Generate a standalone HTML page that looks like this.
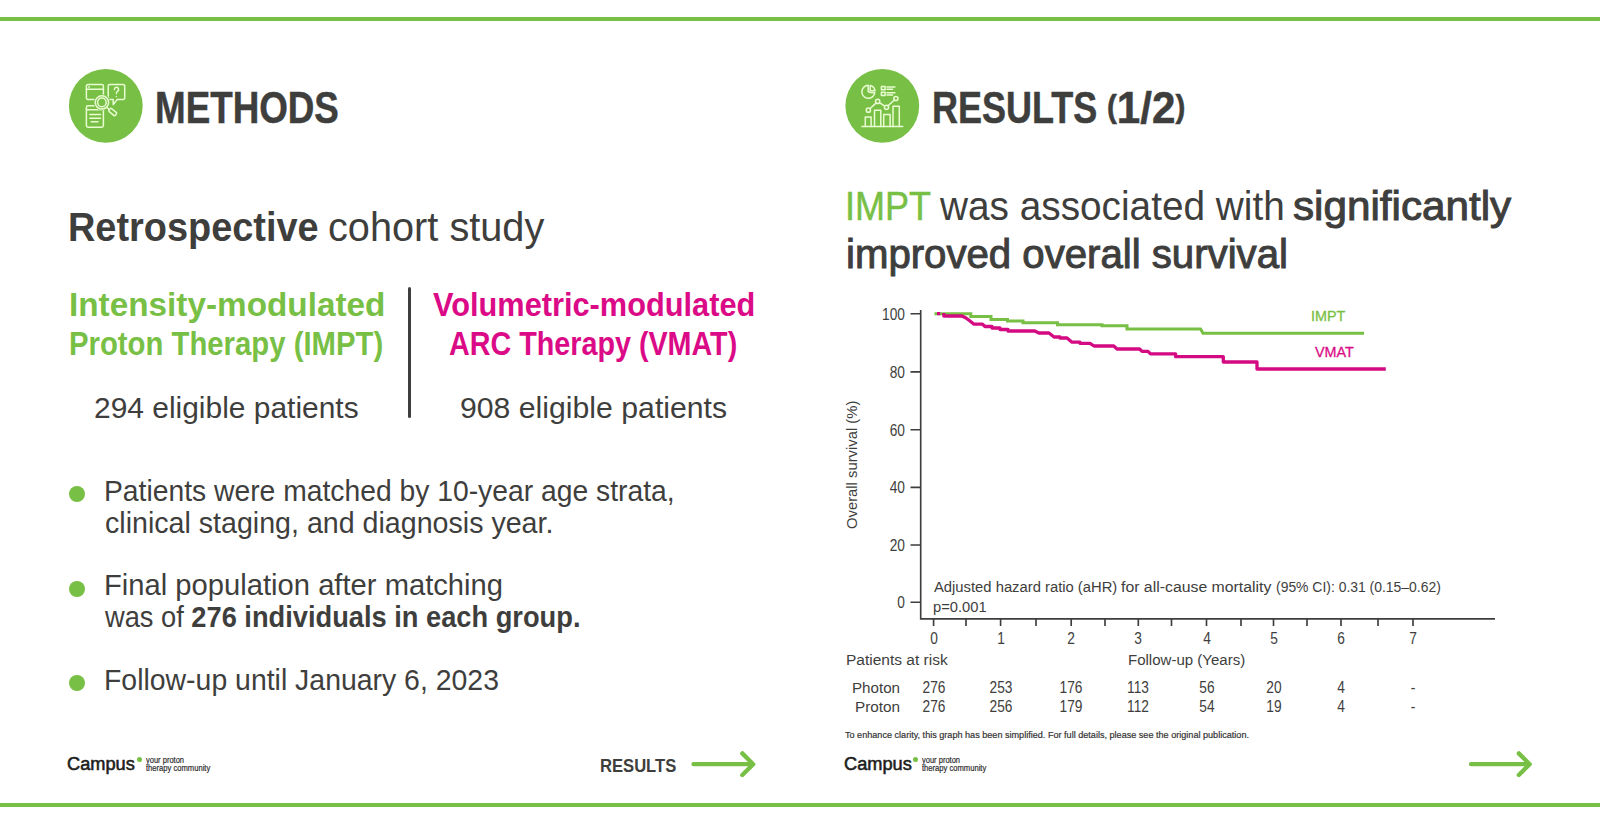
<!DOCTYPE html>
<html lang="en"><head><meta charset="utf-8"><title>Methods / Results</title>
<style>
html,body{margin:0;padding:0;background:#fff;}
body{width:1600px;height:824px;position:relative;overflow:hidden;font-family:"Liberation Sans", sans-serif;color:#3e3e3d;}
.t{position:absolute;white-space:nowrap;line-height:1;transform-origin:0 0;}
.t.n{width:100px;text-align:center;transform-origin:50px 0;color:#3e3e3d;}
.t.nr{width:100px;text-align:right;transform-origin:100px 0;color:#3e3e3d;}
b{font-weight:700}
.sb{-webkit-text-stroke:1px #3e3e3d;}
.bar{position:absolute;left:0;width:1600px;height:4px;background:#78c045;}
.dot{position:absolute;border-radius:50%;background:#78c045;}
svg{position:absolute;left:0;top:0;}
</style></head><body>
<div class="bar" style="top:17px"></div>
<div class="bar" style="top:803.4px"></div>
<div class="dot" style="left:68.8px;top:486.3px;width:16.2px;height:16.2px"></div>
<div class="dot" style="left:68.8px;top:580.7px;width:16.2px;height:16.2px"></div>
<div class="dot" style="left:68.8px;top:674.8px;width:16.2px;height:16.2px"></div>
<div class="dot" style="left:136.5px;top:757.3px;width:5px;height:5px"></div>
<div class="dot" style="left:913.3px;top:757.3px;width:5px;height:5px"></div>
<div style="position:absolute;left:408.2px;top:287px;width:3.1px;height:130.5px;background:#3e3e3d;border-radius:1.5px"></div>
<svg width="1600" height="824" viewBox="0 0 1600 824">
<!-- methods icon -->
<circle cx="105.8" cy="105.8" r="36.9" fill="#78c045"/>
<g fill="none" stroke="#e9fcd2" stroke-width="1.5" stroke-linecap="round" stroke-linejoin="round">
  <rect x="86.4" y="84.4" width="17" height="15.1" rx="1.6"/>
  <path d="M86.4 89.3H103.4"/>
  <path d="M88.6 86.9H89.4"/>
  <rect x="86.4" y="105.8" width="17" height="21.4" rx="1.6"/>
  <path d="M86.4 109.7H103.4"/>
  <path d="M89.8 114.5H100.5M89.8 118.3H100.5M91.3 121.8H98"/>
  <path d="M109.8 84.4H123.1a1.6 1.6 0 0 1 1.6 1.6V97.9a1.6 1.6 0 0 1 -1.6 1.6H117.2L113.2 104.6V99.5H109.8a1.6 1.6 0 0 1 -1.6 -1.6V86a1.6 1.6 0 0 1 1.6 -1.6Z"/>
  <path d="M114.4 89.4a2.1 2.1 0 1 1 3 1.9c-0.8 0.5 -1 1 -1 2.2"/>
  <path d="M116.4 96.4V96.6"/>
</g>
<circle cx="101.9" cy="102.4" r="8.2" fill="#78c045"/>
<g fill="none" stroke="#e9fcd2" stroke-width="1.5" stroke-linecap="round" stroke-linejoin="round">
  <circle cx="101.9" cy="102.4" r="6.7"/>
  <circle cx="101.9" cy="102.4" r="4.3"/>
  <path d="M106.8 107.2L109.3 109.6"/>
  <rect x="-1.9" y="0" width="3.8" height="8.2" rx="1.2" transform="translate(109.6 109.4) rotate(-50)" fill="#78c045"/>
</g>
<!-- results icon -->
<circle cx="882.3" cy="105.8" r="36.9" fill="#78c045"/>
<g fill="none" stroke="#e9fcd2" stroke-width="1.5" stroke-linecap="round" stroke-linejoin="round">
  <path d="M861.9 126.4H902.7"/>
  <path d="M865.3 126.4V117H871.1V126.4"/>
  <path d="M874.5 126.4V110.2H880.8V126.4"/>
  <path d="M883.7 126.4V114.5H890.1V126.4"/>
  <path d="M893 126.4V106.3H899.3V126.4"/>
  <path d="M869.9 108.7L876.2 102.9M879.4 102.6L884.8 106.2M888 105.8L894.4 100"/>
  <circle cx="868.4" cy="110.2" r="2.1"/>
  <circle cx="877.7" cy="101.4" r="2.1"/>
  <circle cx="886.5" cy="107.3" r="2.1"/>
  <circle cx="895.9" cy="98.5" r="2.1"/>
  <path d="M868.2 85.3a6.5 6.5 0 1 0 6.6 7.4L870.2 92.6L868.2 91.6Z"/>
  <path d="M870.2 85.6a6.5 6.5 0 0 1 4.9 5.2H870.2Z"/>
  <rect x="881.4" y="86.4" width="3.7" height="3.3"/>
  <rect x="881.4" y="92.2" width="3.7" height="3.3"/>
  <path d="M887 87H894.9M887 89.2H892.5M887 92.8H894.9M887 95H892.5"/>
</g>
<!-- arrows -->
<g fill="none" stroke="#78c045" stroke-width="4.3" stroke-linecap="round" stroke-linejoin="round">
  <path d="M693.5 764.2H753M742.3 753.4L753.2 764.2L742.3 775"/>
  <path d="M1471 764.2H1529.5M1518.8 753.4L1529.7 764.2L1518.8 775"/>
</g>
<!-- chart -->
<g fill="none" stroke="#3e3e3d" stroke-width="1.65">
  <path d="M920.7 310V618.8H1495"/>
  <path d="M910.5 313.7H920.8M910.5 371.9H920.8M910.5 429.7H920.8M910.5 487.3H920.8M910.5 545H920.8M910.5 602.2H920.8"/>
  <path d="M933.6 618.8V626M966 618.8V626M1000.6 618.8V626M1036 618.8V626M1071.2 618.8V626M1105 618.8V626M1138.3 618.8V626M1171.5 618.8V626M1206.5 618.8V626M1241 618.8V626M1273.5 618.8V626M1307 618.8V626M1341 618.8V626M1378 618.8V626M1413 618.8V626"/>
</g>
<path fill="none" stroke="#78c045" stroke-width="3" stroke-linejoin="miter" d="M934.4 313.7H970.8V316.4H991V319.5H1007.5V321H1023V322.7H1057.5V324.7H1102V325.8H1127V329H1200.6L1203 333.3H1364"/>
<path fill="none" stroke="#d30a82" stroke-width="3.3" stroke-linejoin="round" d="M937 313.7H940.2M943.8 313V316H962L966 318L970 321L974 324.2H982.5L985 326.5H992V328H1000V329.5H1008V331H1034.8L1038.8 333H1049L1054 337H1060V338H1067L1072 342.2H1080V343.3H1090L1094 346H1113.8L1117 349H1139.5L1142 351.3H1148L1150.5 353.8H1175.6V356.7H1223.3V362H1257V369H1385.8"/>
</svg>

<div class="t" style="left:154.78px;top:86.10px;font-size:43.8px;font-weight:700;color:#3e3e3d;-webkit-text-stroke:0.5px #3e3e3d;transform:scaleX(0.8397)">METHODS</div>
<div class="t" style="left:68.21px;top:207.10px;font-size:40.7px;font-weight:700;color:#3e3e3d;transform:scaleX(0.9313)">Retrospective</div>
<div class="t" style="left:328.35px;top:207.10px;font-size:40.7px;font-weight:400;color:#3e3e3d;transform:scaleX(0.9758)">cohort study</div>
<div class="t" style="left:68.96px;top:289.10px;font-size:32.7px;font-weight:700;color:#78c045;transform:scaleX(1.0190)">Intensity-modulated</div>
<div class="t" style="left:69.21px;top:328.10px;font-size:32.7px;font-weight:700;color:#78c045;transform:scaleX(0.8963)">Proton Therapy (IMPT)</div>
<div class="t" style="left:432.80px;top:289.10px;font-size:32.7px;font-weight:700;color:#db0a86;transform:scaleX(0.9405)">Volumetric-modulated</div>
<div class="t" style="left:448.52px;top:328.10px;font-size:32.7px;font-weight:700;color:#db0a86;transform:scaleX(0.8785)">ARC Therapy (VMAT)</div>
<div class="t" style="left:94.21px;top:393.10px;font-size:30.3px;font-weight:400;color:#3e3e3d;transform:scaleX(0.9880)">294 eligible patients</div>
<div class="t" style="left:460.00px;top:393.10px;font-size:30.3px;font-weight:400;color:#3e3e3d;transform:scaleX(0.9974)">908 eligible patients</div>
<div class="t" style="left:103.86px;top:477.10px;font-size:29.1px;font-weight:400;color:#3e3e3d;transform:scaleX(0.9720)">Patients were matched by 10-year age strata,</div>
<div class="t" style="left:104.62px;top:509.10px;font-size:29.1px;font-weight:400;color:#3e3e3d;transform:scaleX(0.9832)">clinical staging, and diagnosis year.</div>
<div class="t" style="left:103.79px;top:571.10px;font-size:29.1px;font-weight:400;color:#3e3e3d;transform:scaleX(1.0030)">Final population after matching</div>
<div class="t" style="left:105.10px;top:603.10px;font-size:29.1px;font-weight:400;color:#3e3e3d;transform:scaleX(0.9366)">was of <b>276 individuals in each group.</b></div>
<div class="t" style="left:103.85px;top:666.10px;font-size:29.1px;font-weight:400;color:#3e3e3d;transform:scaleX(0.9768)">Follow-up until January 6, 2023</div>
<div class="t" style="left:67.47px;top:756.10px;font-size:17.6px;font-weight:400;color:#1d1d1b;-webkit-text-stroke:0.55px #1d1d1b;transform:scaleX(1.0344)">Campus</div>
<div class="t" style="left:145.60px;top:756.10px;font-size:9.3px;font-weight:400;color:#2b2b2b;-webkit-text-stroke:0.2px #2b2b2b;transform:scaleX(0.8087)">your proton</div>
<div class="t" style="left:145.60px;top:764.10px;font-size:9.3px;font-weight:400;color:#2b2b2b;-webkit-text-stroke:0.2px #2b2b2b;transform:scaleX(0.8179)">therapy community</div>
<div class="t" style="left:600.42px;top:757.10px;font-size:18.9px;font-weight:700;color:#3e3e3d;transform:scaleX(0.8788)">RESULTS</div>
<div class="t" style="left:931.54px;top:86.10px;font-size:43.8px;font-weight:700;color:#3e3e3d;-webkit-text-stroke:0.5px #3e3e3d;transform:scaleX(0.8214)">RESULTS</div>
<div class="t" style="left:1107.47px;top:86.10px;font-size:43.8px;font-weight:700;color:#3e3e3d;-webkit-text-stroke:0.5px #3e3e3d;transform:scaleX(0.9628)"><span style="font-size:30.6px;position:relative;top:-6.1px">(</span>1/2<span style="font-size:30.6px;position:relative;top:-6.1px">)</span></div>
<div class="t" style="left:844.93px;top:187.10px;font-size:40.3px;font-weight:400;color:#78c045;-webkit-text-stroke:0.5px #78c045;transform:scaleX(0.8934)">IMPT</div>
<div class="t" style="left:940.00px;top:187.10px;font-size:40.3px;font-weight:400;color:#3e3e3d;transform:scaleX(0.9621)">was associated with</div>
<div class="t" style="left:1292.90px;top:187.10px;font-size:40.3px;font-weight:400;color:#3e3e3d;transform:scaleX(1.0476)"><span class="sb">significantly</span></div>
<div class="t" style="left:845.51px;top:235.10px;font-size:40.3px;font-weight:400;color:#3e3e3d;transform:scaleX(0.9966)"><span class="sb">improved overall survival</span></div>
<div class="t" style="left:844.27px;top:756.10px;font-size:17.6px;font-weight:400;color:#1d1d1b;-webkit-text-stroke:0.55px #1d1d1b;transform:scaleX(1.0344)">Campus</div>
<div class="t" style="left:922.40px;top:756.10px;font-size:9.3px;font-weight:400;color:#2b2b2b;-webkit-text-stroke:0.2px #2b2b2b;transform:scaleX(0.8087)">your proton</div>
<div class="t" style="left:922.40px;top:764.10px;font-size:9.3px;font-weight:400;color:#2b2b2b;-webkit-text-stroke:0.2px #2b2b2b;transform:scaleX(0.8179)">therapy community</div>
<div class="t" style="left:1311.37px;top:308.10px;font-size:15.4px;font-weight:400;color:#78c045;-webkit-text-stroke:0.3px #78c045;transform:scaleX(0.9343)">IMPT</div>
<div class="t" style="left:1314.70px;top:344.10px;font-size:15.4px;font-weight:400;color:#db0a86;-webkit-text-stroke:0.3px #db0a86;transform:scaleX(0.9341)">VMAT</div>
<div class="t" style="left:933.60px;top:579.10px;font-size:15.3px;font-weight:400;color:#3e3e3d;transform:scaleX(0.9667)">Adjusted hazard ratio (aHR)</div>
<div class="t" style="left:1121.30px;top:579.10px;font-size:15.3px;font-weight:400;color:#3e3e3d;transform:scaleX(1.0345)">for all-cause mortality</div>
<div class="t" style="left:1275.69px;top:579.10px;font-size:15.3px;font-weight:400;color:#3e3e3d;transform:scaleX(0.9101)">(95% CI): 0.31 (0.15–0.62)</div>
<div class="t" style="left:932.54px;top:599.10px;font-size:15.3px;font-weight:400;color:#3e3e3d;transform:scaleX(0.9630)">p=0.001</div>
<div class="t" style="left:845.59px;top:652.10px;font-size:15.4px;font-weight:400;color:#3e3e3d;transform:scaleX(1.0080)">Patients at risk</div>
<div class="t" style="left:1128.32px;top:652.10px;font-size:15.4px;font-weight:400;color:#3e3e3d;transform:scaleX(0.9763)">Follow-up (Years)</div>
<div class="t" style="left:851.71px;top:680.10px;font-size:15.4px;font-weight:400;color:#3e3e3d;transform:scaleX(0.9851)">Photon</div>
<div class="t" style="left:854.80px;top:699.10px;font-size:15.4px;font-weight:400;color:#3e3e3d;transform:scaleX(0.9953)">Proton</div>
<div class="t" style="left:845.30px;top:731.10px;font-size:9.3px;font-weight:400;color:#333;-webkit-text-stroke:0.2px #333;transform:scaleX(0.9775)">To enhance clarity, this graph has been simplified. For full details, please see the original publication.</div>
<div class="t n" style="left:883.60px;top:631.10px;font-size:15.6px;transform:scaleX(0.88)">0</div>
<div class="t n" style="left:950.60px;top:631.10px;font-size:15.6px;transform:scaleX(0.88)">1</div>
<div class="t n" style="left:1021.20px;top:631.10px;font-size:15.6px;transform:scaleX(0.88)">2</div>
<div class="t n" style="left:1088.30px;top:631.10px;font-size:15.6px;transform:scaleX(0.88)">3</div>
<div class="t n" style="left:1156.50px;top:631.10px;font-size:15.6px;transform:scaleX(0.88)">4</div>
<div class="t n" style="left:1223.50px;top:631.10px;font-size:15.6px;transform:scaleX(0.88)">5</div>
<div class="t n" style="left:1291.00px;top:631.10px;font-size:15.6px;transform:scaleX(0.88)">6</div>
<div class="t n" style="left:1363.00px;top:631.10px;font-size:15.6px;transform:scaleX(0.88)">7</div>
<div class="t n" style="left:883.60px;top:680.10px;font-size:15.6px;transform:scaleX(0.88)">276</div>
<div class="t n" style="left:883.60px;top:699.10px;font-size:15.6px;transform:scaleX(0.88)">276</div>
<div class="t n" style="left:950.60px;top:680.10px;font-size:15.6px;transform:scaleX(0.88)">253</div>
<div class="t n" style="left:950.60px;top:699.10px;font-size:15.6px;transform:scaleX(0.88)">256</div>
<div class="t n" style="left:1021.20px;top:680.10px;font-size:15.6px;transform:scaleX(0.88)">176</div>
<div class="t n" style="left:1021.20px;top:699.10px;font-size:15.6px;transform:scaleX(0.88)">179</div>
<div class="t n" style="left:1088.30px;top:680.10px;font-size:15.6px;transform:scaleX(0.88)">113</div>
<div class="t n" style="left:1088.30px;top:699.10px;font-size:15.6px;transform:scaleX(0.88)">112</div>
<div class="t n" style="left:1156.50px;top:680.10px;font-size:15.6px;transform:scaleX(0.88)">56</div>
<div class="t n" style="left:1156.50px;top:699.10px;font-size:15.6px;transform:scaleX(0.88)">54</div>
<div class="t n" style="left:1223.50px;top:680.10px;font-size:15.6px;transform:scaleX(0.88)">20</div>
<div class="t n" style="left:1223.50px;top:699.10px;font-size:15.6px;transform:scaleX(0.88)">19</div>
<div class="t n" style="left:1291.00px;top:680.10px;font-size:15.6px;transform:scaleX(0.88)">4</div>
<div class="t n" style="left:1291.00px;top:699.10px;font-size:15.6px;transform:scaleX(0.88)">4</div>
<div class="t n" style="left:1363.00px;top:680.10px;font-size:15.6px;transform:scaleX(0.88)">-</div>
<div class="t n" style="left:1363.00px;top:699.10px;font-size:15.6px;transform:scaleX(0.88)">-</div>
<div class="t nr" style="left:804.80px;top:307.10px;font-size:15.6px;transform:scaleX(0.88)">100</div>
<div class="t nr" style="left:804.80px;top:365.10px;font-size:15.6px;transform:scaleX(0.88)">80</div>
<div class="t nr" style="left:804.80px;top:423.10px;font-size:15.6px;transform:scaleX(0.88)">60</div>
<div class="t nr" style="left:804.80px;top:480.10px;font-size:15.6px;transform:scaleX(0.88)">40</div>
<div class="t nr" style="left:804.80px;top:538.10px;font-size:15.6px;transform:scaleX(0.88)">20</div>
<div class="t nr" style="left:804.80px;top:595.10px;font-size:15.6px;transform:scaleX(0.88)">0</div>
<div class="t" id="ylab" style="left:844.1px;top:529.2px;font-size:15.4px;transform-origin:0 0;transform:rotate(-90deg) scaleX(0.962);">Overall survival (%)</div>
</body></html>
